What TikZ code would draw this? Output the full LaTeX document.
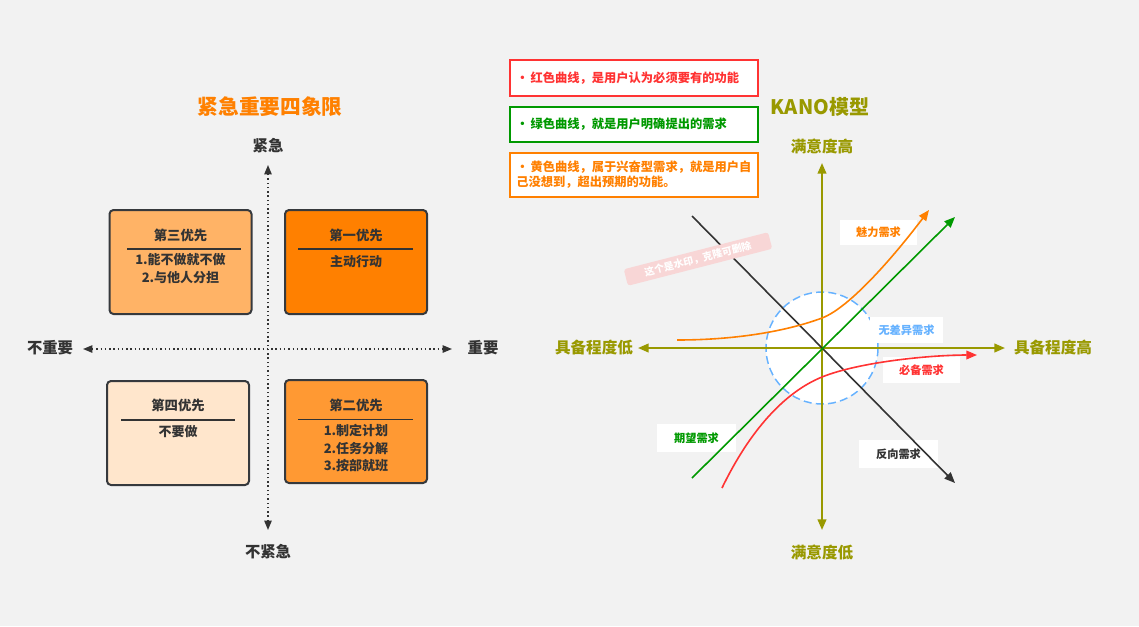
\documentclass[tikz,border=0pt]{standalone}
\usepackage{fontspec}
\setmainfont{Noto Sans CJK SC}
\usetikzlibrary{arrows.meta}
\definecolor{bgc}{HTML}{F2F2F2}
\definecolor{dark}{HTML}{333333}
\definecolor{boxline}{HTML}{36393D}
\definecolor{qone}{HTML}{FF8000}
\definecolor{qtwo}{HTML}{FF9933}
\definecolor{qthree}{HTML}{FFB366}
\definecolor{qfour}{HTML}{FFE6CC}
\definecolor{orangec}{HTML}{FF8000}
\definecolor{olive}{HTML}{999900}
\definecolor{greenc}{HTML}{009900}
\definecolor{redc}{HTML}{FF3333}
\definecolor{bluec}{HTML}{66B2FF}
\definecolor{wmark}{HTML}{F8D6D6}
\tikzset{
  quad/.style={draw=boxline, line width=1.5pt, rounded corners=3pt, minimum width=106.5pt, minimum height=78pt, inner sep=0pt},
  qtitle/.style={text=dark, font=\bfseries\fontsize{10}{12}\selectfont, inner sep=0pt},
  qbody/.style={text=dark, align=center, font=\bfseries\fontsize{9.75}{13}\selectfont, inner sep=0pt},
  qrule/.style={draw=dark, line width=1.1pt},
  ltitle/.style={text=orangec, font=\bfseries\fontsize{15.5}{18}\selectfont},
  axlab/.style={text=dark, font=\bfseries\fontsize{11.5}{14}\selectfont},
  dotax/.style={draw=dark, line width=1.1pt, dash pattern=on 1.1pt off 2.1pt, {Triangle[length=7pt,width=5.5pt]}-{Triangle[length=7pt,width=5.5pt]}},
  legbox/.style={draw=#1, fill=white, line width=1.2pt, minimum width=186pt, inner sep=0pt},
  legtext/.style={text=#1, anchor=west, align=left, font=\bfseries\fontsize{9.2}{11.3}\selectfont, inner sep=0pt},
  ktitle/.style={text=olive, font=\bfseries\fontsize{15}{18}\selectfont},
  klab/.style={text=olive, font=\bfseries\fontsize{11.7}{14}\selectfont},
  kax/.style={draw=olive, line width=1.5pt, {Triangle[length=8pt,width=6.5pt]}-{Triangle[length=8pt,width=6.5pt]}},
  lbox/.style={fill=white, font=\bfseries\fontsize{8.4}{10}\selectfont, inner sep=0pt},
  kline/.style={draw=#1, line width=1.2pt, -{Triangle[length=8pt,width=6.5pt]}},
}
\begin{document}
\begin{tikzpicture}[x=0.75pt,y=-0.75pt]
\fill[bgc] (0,0) rectangle (1139,626);
\useasboundingbox (0,0) rectangle (1139,626);

% ---------- left: four quadrants ----------
\node[ltitle] (lt) at (270,107) {紧急重要四象限};
\node[axlab] (urg) at (268,146) {紧急};
\node[axlab] (nurg) at (268,552) {不紧急};
\node[axlab] (nimp) at (50,348) {不重要};
\node[axlab] (imp) at (483,348) {重要};
\coordinate (vt) at (268,165);
\coordinate (vb) at (268,530);
\coordinate (hl) at (83,349);
\coordinate (hr) at (452,349);
\draw[dotax] (vb) -- (vt);
\draw[dotax] (hl) -- (hr);

\node[quad, fill=qthree] (q3) at (180.5,262) {};
\node[qtitle] (q3t) at (180.5,235) {第三优先};
\coordinate (q3a) at (127,249); \coordinate (q3b) at (241,249);
\draw[qrule] (q3a) -- (q3b);
\node[qbody] (q3x) at (180.5,268.5) {1.能不做就不做\\2.与他人分担};

\node[quad, fill=qone] (q1) at (356,262) {};
\node[qtitle] (q1t) at (356,235) {第一优先};
\coordinate (q1a) at (298,249); \coordinate (q1b) at (413,249);
\draw[qrule] (q1a) -- (q1b);
\node[qbody] (q1x) at (356,262) {主动行动};

\node[quad, fill=qfour] (q4) at (178,433) {};
\node[qtitle] (q4t) at (178,405) {第四优先};
\coordinate (q4a) at (121,420); \coordinate (q4b) at (235,420);
\draw[qrule] (q4a) -- (q4b);
\node[qbody] (q4x) at (178,432) {不要做};

\node[quad, fill=qtwo, minimum height=77.25pt] (q2) at (356,431.5) {};
\node[qtitle] (q2t) at (356,405) {第二优先};
\coordinate (q2a) at (298,419.5); \coordinate (q2b) at (413,419.5);
\draw[qrule] (q2a) -- (q2b);
\node[qbody] (q2x) at (356,448) {1.制定计划\\2.任务分解\\3.按部就班};

% ---------- right: legend ----------
\node[legbox=redc, minimum height=27pt] (lg1) at (634,78) {};
\node[legtext=redc] (lg1t) at (516,78) {•\,红色曲线，是用户认为必须要有的功能};
\node[legbox=greenc, minimum height=26.25pt] (lg2) at (634,124.5) {};
\node[legtext=greenc] (lg2t) at (516,124.5) {•\,绿色曲线，就是用户明确提出的需求};
\node[legbox=orangec, minimum height=33pt] (lg3) at (634,175) {};
\node[legtext=orangec] (lg3t) at (516,174.5) {•\,黄色曲线，属于兴奋型需求，就是用户自\\己没想到，超出预期的功能。};

% ---------- right: KANO ----------
\node[ktitle] (kt) at (820,107) {KANO模型};
\node[klab] (khi) at (822,146) {满意度高};
\node[klab] (klo) at (822,552) {满意度低};
\node[klab] (kl) at (594,348) {具备程度低};
\node[klab] (kr) at (1053,348) {具备程度高};

\node[circle, draw=bluec, fill=white, line width=1.1pt, dash pattern=on 6pt off 3.2pt, minimum size=84pt, inner sep=0pt] (circ) at (822,348) {};

\node[lbox, text=orangec, minimum width=57.75pt, minimum height=18.75pt] (meili) at (878.5,232) {魅力需求};
\node[lbox, text=bluec, minimum width=54.75pt, minimum height=19.5pt] (wucha) at (906.5,330) {无差异需求};
\node[lbox, text=redc, minimum width=57.75pt, minimum height=19.5pt] (bibei) at (921.5,370) {必备需求};
\node[lbox, text=greenc, minimum width=59.25pt, minimum height=21pt] (qiwang) at (696.5,438) {期望需求};
\node[lbox, text=dark, minimum width=59.25pt, minimum height=21pt] (fanx) at (898.5,454) {反向需求};

\coordinate (kvt) at (822,163);
\coordinate (kvb) at (822,530);
\coordinate (khl) at (638,348);
\coordinate (khr) at (1005,348);
\draw[kax] (kvb) -- (kvt);
\draw[kax] (khl) -- (khr);

\coordinate (bs) at (692,216); \coordinate (be) at (955,483);
\draw[kline=dark] (bs) -- (be);
\coordinate (gs) at (692,478); \coordinate (ge) at (955,217);
\draw[kline=greenc] (gs) -- (ge);

\coordinate (os) at (677,340); \coordinate (om) at (822,318); \coordinate (oe) at (929,210);
\draw[kline=orangec] (os) .. controls (740,340) and (790,330) .. (om)
   .. controls (850,307.5) and (895,255) .. (oe);
\coordinate (rs) at (722,488); \coordinate (rm) at (822,377); \coordinate (re) at (977,355);
\draw[kline=redc] (rs) .. controls (750,430) and (785,392) .. (rm)
   .. controls (859,362) and (930,355) .. (re);

% watermark
\node[fill=wmark, rounded corners=2pt, rotate=14.4, minimum width=111.75pt, minimum height=12.75pt, inner sep=0pt, text=white, font=\bfseries\fontsize{7.5}{9}\selectfont] (wm) at (698,259) {这个是水印，克隆可删除};
\end{tikzpicture}
\end{document}
